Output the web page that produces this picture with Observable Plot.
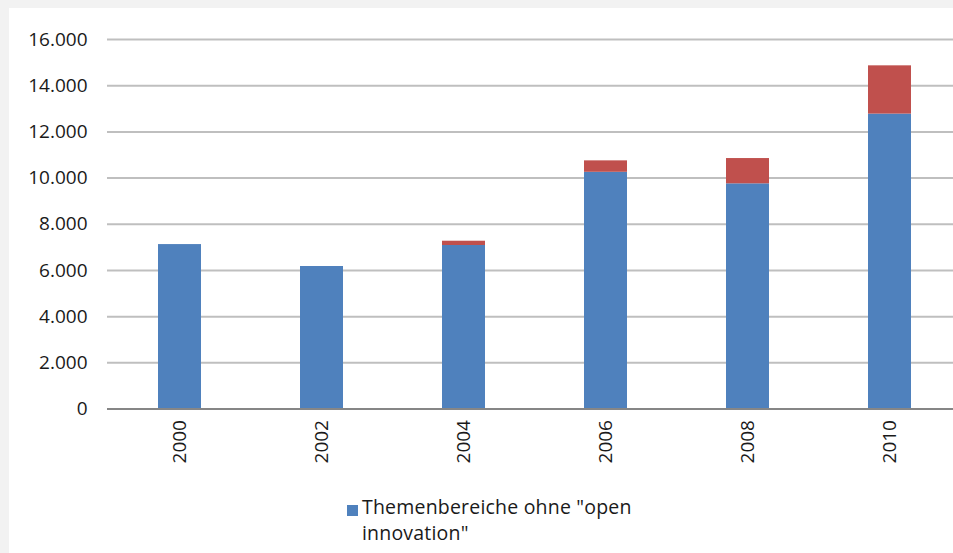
<!DOCTYPE html>
<html><head><meta charset="utf-8">
<script src="https://cdn.jsdelivr.net/npm/d3@7"></script>
<script src="https://cdn.jsdelivr.net/npm/@observablehq/plot@0.6"></script>
<style>
html,body{margin:0;padding:0;background:#f2f2f2;width:953px;height:553px;overflow:hidden;font-family:"Open Sans",sans-serif;}
#panel{position:absolute;left:9px;top:8px;width:944px;height:545px;background:#fff;overflow:hidden;}
#chart{position:absolute;left:0;top:0;}
#legend{position:absolute;left:338px;top:486px;font-size:19.5px;line-height:26px;color:#1a1a1a;}
#legend .sw{position:absolute;left:0;top:11px;width:11px;height:11px;}
#legend .tx{position:absolute;left:15px;top:0;white-space:nowrap;letter-spacing:0.2px;}
</style>
</head><body>
<div id="panel"><div id="chart"></div><div id="legend"></div></div>
<script>
const years = ["2000", "2002", "2004", "2006", "2008", "2010"];
const ohneOI = [7120, 6170, 7080, 10250, 9750, 12770];
const mitOI = [0, 0, 185, 495, 1095, 2090];
const yTicks = [0, 2000, 4000, 6000, 8000, 10000, 12000, 14000, 16000];
const series = ["Themenbereiche ohne \"open innovation\"", "Themenbereiche mit \"open innovation\""];
const colors = ["#4f81bd", "#c0504d"];

const data = [];
years.forEach((y, i) => {
  data.push({year: y, series: series[0], value: ohneOI[i]});
  data.push({year: y, series: series[1], value: mitOI[i]});
});

const de = d3.formatLocale({decimal: ",", thousands: ".", grouping: [3], currency: ["", " €"]});
const fmt = de.format(",d");

const chart = Plot.plot({
  width: 952,
  height: 480,
  marginLeft: 98,
  marginRight: 0,
  marginTop: 31,
  marginBottom: 79.5,
  style: {fontSize: "19px", fontFamily: "'Open Sans', sans-serif", color: "#1a1a1a", background: "transparent", maxWidth: "none", overflow: "visible"},
  x: {domain: years, paddingInner: 0.7, paddingOuter: 0.35, label: null, tickSize: 0, tickPadding: 11, tickRotate: -90},
  y: {domain: [0, 16000], ticks: yTicks, tickFormat: fmt, label: null, tickSize: 0, tickPadding: 20},
  color: {domain: series, range: colors},
  marks: [
    Plot.ruleY(yTicks.filter(d => d > 0), {stroke: "#bfbfbf", strokeWidth: 2}),
    Plot.barY(data, {x: "year", y: "value", fill: "series", order: series}),
    Plot.ruleY([0], {stroke: "#868686", strokeWidth: 2})
  ]
});
document.getElementById("chart").appendChild(chart);

const lg = document.getElementById("legend");
const sw = document.createElement("div");
sw.className = "sw";
sw.style.background = colors[0];
lg.appendChild(sw);
const tx = document.createElement("div");
tx.className = "tx";
tx.innerHTML = "Themenbereiche ohne \"open<br>innovation\"";
lg.appendChild(tx);
</script>
</body></html>
